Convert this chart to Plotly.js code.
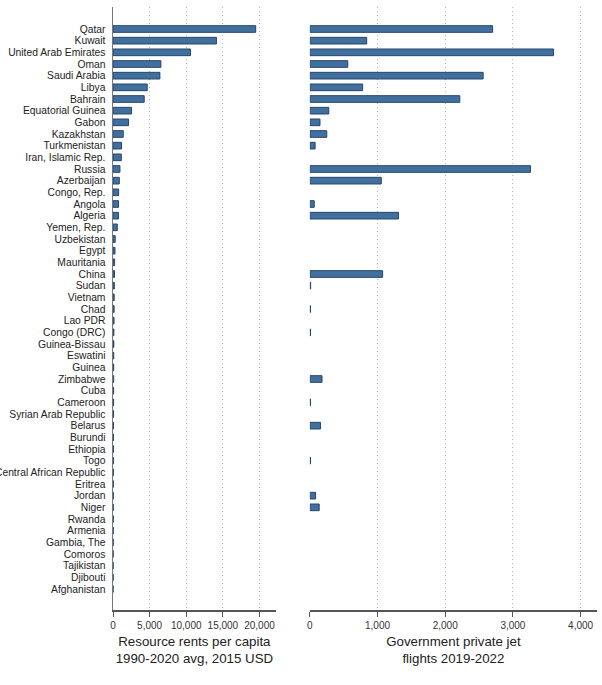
<!DOCTYPE html>
<html>
<head>
<meta charset="utf-8">
<script src="https://cdn.plot.ly/plotly-3.0.1.min.js"></script>
<style>html,body{margin:0;padding:0;background:#fff;}#chart{width:602px;height:685px;}</style>
</head>
<body>
<div id="chart"></div>
<script>
const countries = ["Qatar","Kuwait","United Arab Emirates","Oman","Saudi Arabia","Libya","Bahrain",
  "Equatorial Guinea","Gabon","Kazakhstan","Turkmenistan","Iran, Islamic Rep.","Russia","Azerbaijan",
  "Congo, Rep.","Angola","Algeria","Yemen, Rep.","Uzbekistan","Egypt","Mauritania","China","Sudan",
  "Vietnam","Chad","Lao PDR","Congo (DRC)","Guinea-Bissau","Eswatini","Guinea","Zimbabwe","Cuba",
  "Cameroon","Syrian Arab Republic","Belarus","Burundi","Ethiopia","Togo","Central African Republic",
  "Eritrea","Jordan","Niger","Rwanda","Armenia","Gambia, The","Comoros","Tajikistan","Djibouti","Afghanistan"];

// Resource rents per capita, 1990-2020 avg, 2015 USD
const resourceRents = [19480,14120,10570,6540,6400,4670,4260,2530,2120,1400,1170,1130,950,860,
  770,760,740,590,300,270,220,200,180,160,150,140,120,110,100,95,90,85,80,75,70,60,55,50,45,40,
  35,30,28,25,22,20,18,15,12];

// Government private jet flights 2019-2022
const jetFlights = [2700,840,3600,560,2560,780,2215,280,150,250,78,0,3260,1055,0,65,1310,0,0,0,0,
  1075,12,0,10,0,10,0,0,0,180,0,10,0,158,0,0,10,0,0,85,138,0,0,0,0,0,0,0];

const fillCol = '#41709f', edgeCol = '#24466c';

const traces = [
  {type: 'bar', orientation: 'h', y: countries, x: resourceRents, xaxis: 'x', yaxis: 'y',
   marker: {color: fillCol, line: {color: edgeCol, width: 1}}, hoverinfo: 'skip'},
  {type: 'bar', orientation: 'h', y: countries, x: jetFlights, xaxis: 'x2', yaxis: 'y2',
   marker: {color: fillCol, line: {color: edgeCol, width: jetFlights.map(v => v > 0 ? 1 : 0)}},
   hoverinfo: 'skip'}
];

const fam = 'Liberation Sans, Arial, sans-serif';
const xCommon = {
  showgrid: true, gridcolor: '#b8b8b8', griddash: '1px,3px', gridwidth: 1,
  zeroline: false, showline: true, linecolor: '#555', linewidth: 1.5,
  ticks: 'outside', ticklen: 5, tickcolor: '#555', tickwidth: 1,
  tickformat: ',', tickfont: {size: 10, color: '#333', family: fam},
  fixedrange: true
};

const layout = {
  width: 602, height: 685,
  margin: {l: 113, r: 5, t: 7, b: 75},
  paper_bgcolor: '#fff', plot_bgcolor: '#fff',
  showlegend: false, bargap: 0.43,
  font: {family: fam, color: '#222'},
  xaxis: Object.assign({}, xCommon, {
    domain: [0, 0.3364], range: [0, 22225], tick0: 0, dtick: 5000, anchor: 'y',
    title: {text: 'Resource rents per capita<br>1990-2020 avg, 2015 USD',
            font: {size: 13.3, color: '#222', family: fam}, standoff: 7}
  }),
  xaxis2: Object.assign({}, xCommon, {
    domain: [0.4067, 1], range: [0, 4242], tick0: 0, dtick: 1000, anchor: 'y2',
    title: {text: 'Government private jet<br>flights 2019-2022',
            font: {size: 13.3, color: '#222', family: fam}, standoff: 7}
  }),
  yaxis: {
    type: 'category', categoryorder: 'array', categoryarray: countries,
    tickmode: 'array', tickvals: countries, ticktext: countries,
    range: [49.8, -1.886], anchor: 'x',
    showgrid: false, zeroline: false, showline: true, linecolor: '#777', linewidth: 1.5,
    ticks: '', ticklabelstandoff: 4,
    tickfont: {size: 10.3, color: '#222', family: fam}, fixedrange: true
  },
  yaxis2: {
    type: 'category', categoryorder: 'array', categoryarray: countries,
    range: [49.8, -1.886], anchor: 'x2',
    showgrid: false, zeroline: false, showline: false, showticklabels: false,
    ticks: '', fixedrange: true
  }
};

Plotly.newPlot('chart', traces, layout, {staticPlot: true, displayModeBar: false});
</script>
</body>
</html>
